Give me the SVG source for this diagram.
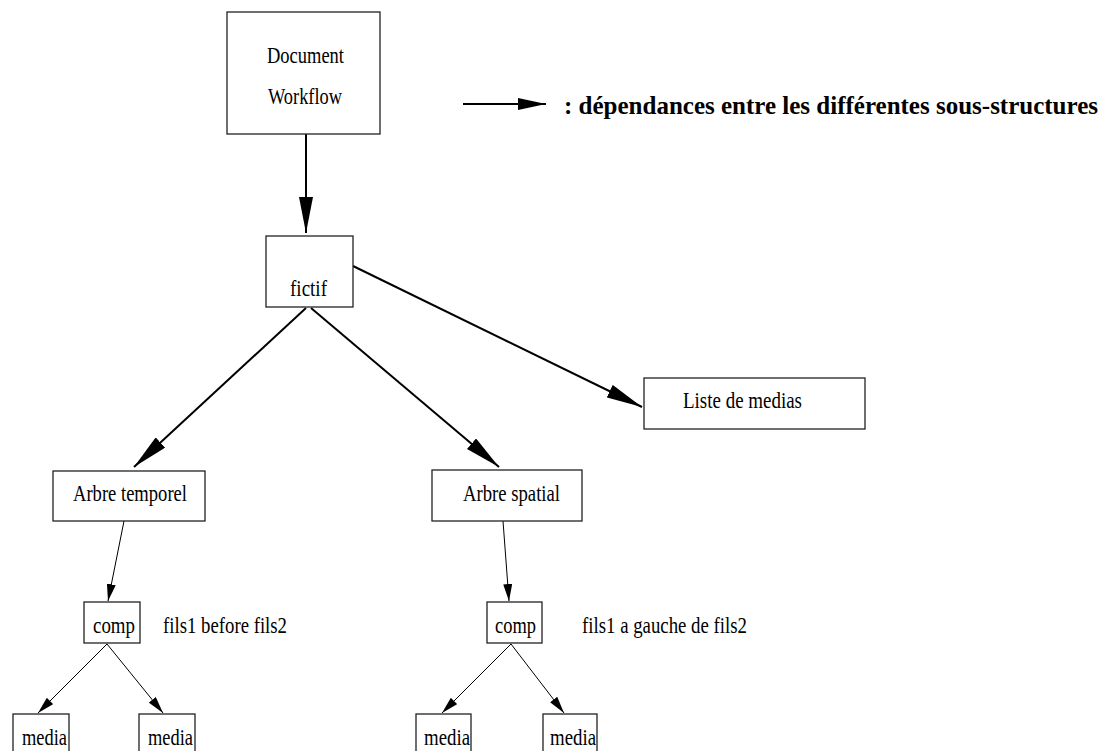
<svg xmlns="http://www.w3.org/2000/svg" width="1111" height="751" viewBox="0 0 1111 751">
<style>
.box{fill:#fff;stroke:#222;stroke-width:1.3}
.t{font-family:"Liberation Serif","Times New Roman",serif;font-size:23px;fill:#000}
.tb{font-family:"Liberation Serif","Times New Roman",serif;font-size:25px;font-weight:bold;fill:#000}
.thick{stroke:#000;stroke-width:2;fill:none}
.thin{stroke:#000;stroke-width:1;fill:none}
</style>
<defs>
<marker id="big" markerUnits="userSpaceOnUse" viewBox="0 0 36 14" markerWidth="36" markerHeight="14" refX="36" refY="7" orient="auto"><path d="M0,0 L36,7 L0,14 z" fill="#000"/></marker>
<marker id="leg" markerUnits="userSpaceOnUse" viewBox="0 0 28 12" markerWidth="28" markerHeight="12" refX="28" refY="6" orient="auto"><path d="M0,0 L28,6 L0,12 z" fill="#000"/></marker>
<marker id="small" markerUnits="userSpaceOnUse" viewBox="0 0 17 9" markerWidth="17" markerHeight="9" refX="17" refY="4.5" orient="auto"><path d="M0,0 L17,4.5 L0,9 z" fill="#000"/></marker>
</defs>
<rect width="1111" height="751" fill="#fff"/>
<g id="connectors">
<line class="thick" x1="306" y1="134" x2="306" y2="233" marker-end="url(#big)"/>
<line class="thick" x1="306" y1="308" x2="134" y2="467" marker-end="url(#big)"/>
<line class="thick" x1="311" y1="308" x2="499" y2="467" marker-end="url(#big)"/>
<line class="thick" x1="353" y1="266" x2="642" y2="407" marker-end="url(#big)"/>
<line class="thin" x1="124" y1="521" x2="108" y2="601" marker-end="url(#small)"/>
<line class="thin" x1="503" y1="521" x2="509" y2="601" marker-end="url(#small)"/>
<line class="thin" x1="107" y1="644" x2="38" y2="713" marker-end="url(#small)"/>
<line class="thin" x1="107" y1="644" x2="163" y2="713" marker-end="url(#small)"/>
<line class="thin" x1="511" y1="644" x2="442" y2="713" marker-end="url(#small)"/>
<line class="thin" x1="511" y1="644" x2="564" y2="713" marker-end="url(#small)"/>
</g>
<g id="legend">
<line class="thick" x1="463" y1="104" x2="546" y2="104" marker-end="url(#leg)"/>
<text class="tb" x="564" y="114" textLength="534" lengthAdjust="spacingAndGlyphs">: dépendances entre les différentes sous-structures</text>
</g>
<g id="doc">
<rect class="box" x="227" y="12" width="153" height="122"/>
<text class="t" x="267" y="63" textLength="77" lengthAdjust="spacingAndGlyphs">Document</text>
<text class="t" x="268" y="104" textLength="74" lengthAdjust="spacingAndGlyphs">Workflow</text>
</g>
<g id="fictif">
<rect class="box" x="266" y="236" width="87" height="71"/>
<text class="t" x="290" y="296" textLength="37" lengthAdjust="spacingAndGlyphs">fictif</text>
</g>
<g id="liste">
<rect class="box" x="644" y="378" width="221" height="51"/>
<text class="t" x="683" y="408" textLength="119" lengthAdjust="spacingAndGlyphs">Liste de medias</text>
</g>
<g id="arbre-temporel">
<rect class="box" x="53" y="471" width="152" height="50"/>
<text class="t" x="73" y="501" textLength="114" lengthAdjust="spacingAndGlyphs">Arbre temporel</text>
</g>
<g id="arbre-spatial">
<rect class="box" x="432" y="470" width="150" height="51"/>
<text class="t" x="463" y="501" textLength="97" lengthAdjust="spacingAndGlyphs">Arbre spatial</text>
</g>
<g id="comp-temporel">
<rect class="box" x="84" y="602" width="56" height="41"/>
<text class="t" x="93" y="633" textLength="42" lengthAdjust="spacingAndGlyphs">comp</text>
</g>
<g id="label-temporel">
<text class="t" x="163" y="633" textLength="124" lengthAdjust="spacingAndGlyphs">fils1 before fils2</text>
</g>
<g id="comp-spatial">
<rect class="box" x="487" y="602" width="55" height="41"/>
<text class="t" x="495" y="633" textLength="41" lengthAdjust="spacingAndGlyphs">comp</text>
</g>
<g id="label-spatial">
<text class="t" x="582" y="633" textLength="165" lengthAdjust="spacingAndGlyphs">fils1 a gauche de fils2</text>
</g>
<g id="media-t1">
<rect class="box" x="13" y="714" width="56" height="50"/>
<text class="t" x="22" y="745" textLength="45" lengthAdjust="spacingAndGlyphs">media</text>
</g>
<g id="media-t2">
<rect class="box" x="139" y="714" width="56" height="50"/>
<text class="t" x="148" y="745" textLength="45" lengthAdjust="spacingAndGlyphs">media</text>
</g>
<g id="media-s1">
<rect class="box" x="416" y="714" width="55" height="50"/>
<text class="t" x="424" y="745" textLength="46" lengthAdjust="spacingAndGlyphs">media</text>
</g>
<g id="media-s2">
<rect class="box" x="543" y="714" width="54" height="50"/>
<text class="t" x="550" y="745" textLength="46" lengthAdjust="spacingAndGlyphs">media</text>
</g>
</svg>
